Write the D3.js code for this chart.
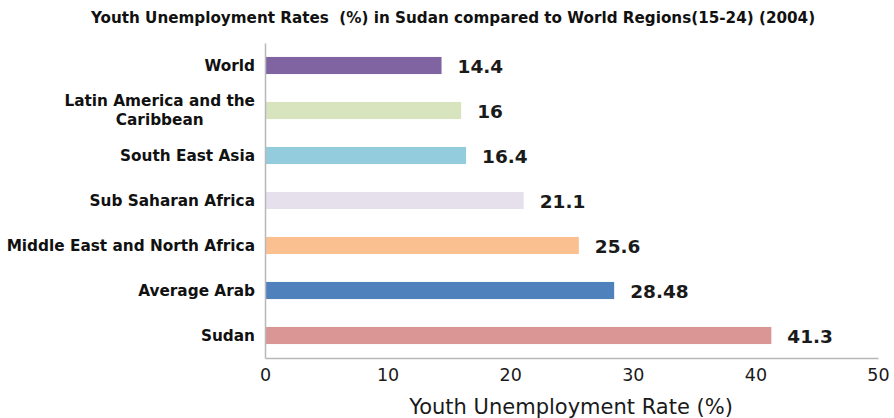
<!DOCTYPE html>
<html>
<head>
<meta charset="utf-8">
<script src="https://cdn.jsdelivr.net/npm/d3@7/dist/d3.min.js"></script>
<style>
  html, body { margin: 0; padding: 0; background: #fff; }
  svg { display: block; }
  .keep-spaces { white-space: pre; }
</style>
</head>
<body>
<svg id="chart" width="894" height="418"></svg>
<script>
// Youth unemployment rates (ages 15-24), 2004
const regions = [
  ["World"],
  ["Latin America and the", "Caribbean"],
  ["South East Asia"],
  ["Sub Saharan Africa"],
  ["Middle East and North Africa"],
  ["Average Arab"],
  ["Sudan"]
];
const rates = [14.4, 16, 16.4, 21.1, 25.6, 28.48, 41.3];
const rateLabels = ["14.4", "16", "16.4", "21.1", "25.6", "28.48", "41.3"];
const barColors = ["#8064a2", "#d7e4bd", "#93cddd", "#e6e0ec", "#fac090", "#4f81bd", "#d99694"];
const xTicks = [0, 10, 20, 30, 40, 50];

const titleText = "Youth Unemployment Rates  (%) in Sudan compared to World Regions(15-24) (2004)";
const xTitle = "Youth Unemployment Rate (%)";

const svg = d3.select("#chart");
const plotLeft = 265, plotRight = 878, plotTop = 43, plotBottom = 358;
const fontFamily = "'DejaVu Sans', sans-serif";

const x = d3.scaleLinear().domain([0, 50]).range([plotLeft, plotRight]);
const y = d3.scaleBand()
  .domain(d3.range(regions.length))
  .range([plotTop, plotBottom])
  .paddingInner(0.62)
  .paddingOuter(0.31);

// Title
svg.append("text")
  .attr("class", "keep-spaces")
  .attr("x", 453).attr("y", 23)
  .attr("text-anchor", "middle")
  .attr("font-family", fontFamily)
  .attr("font-weight", "bold")
  .attr("font-size", 15.2)
  .attr("fill", "#111")
  .text(titleText);

// Bars
svg.append("g").selectAll("rect")
  .data(rates)
  .join("rect")
  .attr("x", x(0))
  .attr("y", (d, i) => y(i))
  .attr("width", d => x(d) - x(0))
  .attr("height", y.bandwidth())
  .attr("fill", (d, i) => barColors[i]);

// Value labels
svg.append("g").selectAll("text")
  .data(rates)
  .join("text")
  .attr("x", d => x(d) + 16)
  .attr("y", (d, i) => y(i) + y.bandwidth() / 2 + 1)
  .attr("dy", "0.35em")
  .attr("font-family", fontFamily)
  .attr("font-weight", "bold")
  .attr("font-size", 18.5)
  .attr("fill", "#1a1a1a")
  .text((d, i) => rateLabels[i]);

// Category labels (multi-line labels centred under their first line)
const catX = 255;
const catG = svg.append("g");
regions.forEach((lines, i) => {
  const cy = y(i) + y.bandwidth() / 2;
  const lh = 19;
  const t0 = catG.append("text")
    .attr("x", catX)
    .attr("y", cy - (lines.length - 1) * lh / 2)
    .attr("dy", "0.35em")
    .attr("text-anchor", "end")
    .attr("font-family", fontFamily)
    .attr("font-weight", "bold")
    .attr("font-size", 15.3)
    .attr("fill", "#111")
    .text(lines[0]);
  if (lines.length > 1) {
    const w = t0.node().getComputedTextLength();
    lines.slice(1).forEach((ln, k) => {
      catG.append("text")
        .attr("x", catX - w / 2)
        .attr("y", cy - (lines.length - 1) * lh / 2 + (k + 1) * lh)
        .attr("dy", "0.35em")
        .attr("text-anchor", "middle")
        .attr("font-family", fontFamily)
        .attr("font-weight", "bold")
        .attr("font-size", 15.3)
        .attr("fill", "#111")
        .text(ln);
    });
  }
});

// Axes
const xAxis = svg.append("g")
  .attr("transform", `translate(0,${plotBottom})`)
  .call(d3.axisBottom(x).tickValues(xTicks).tickSize(0).tickPadding(11));
xAxis.select(".domain").attr("stroke", "#b8b8b8").attr("stroke-width", 1.5);
xAxis.selectAll("text")
  .attr("font-family", fontFamily)
  .attr("font-size", 17.5)
  .attr("fill", "#1a1a1a");

const yAxis = svg.append("g")
  .attr("transform", `translate(${plotLeft},0)`)
  .call(d3.axisLeft(y).tickSize(0).tickFormat(""));
yAxis.select(".domain").attr("stroke", "#b8b8b8").attr("stroke-width", 1.5);

// X axis title
svg.append("text")
  .attr("x", 571).attr("y", 414)
  .attr("text-anchor", "middle")
  .attr("font-family", fontFamily)
  .attr("font-size", 21)
  .attr("fill", "#1a1a1a")
  .text(xTitle);
</script>
</body>
</html>
